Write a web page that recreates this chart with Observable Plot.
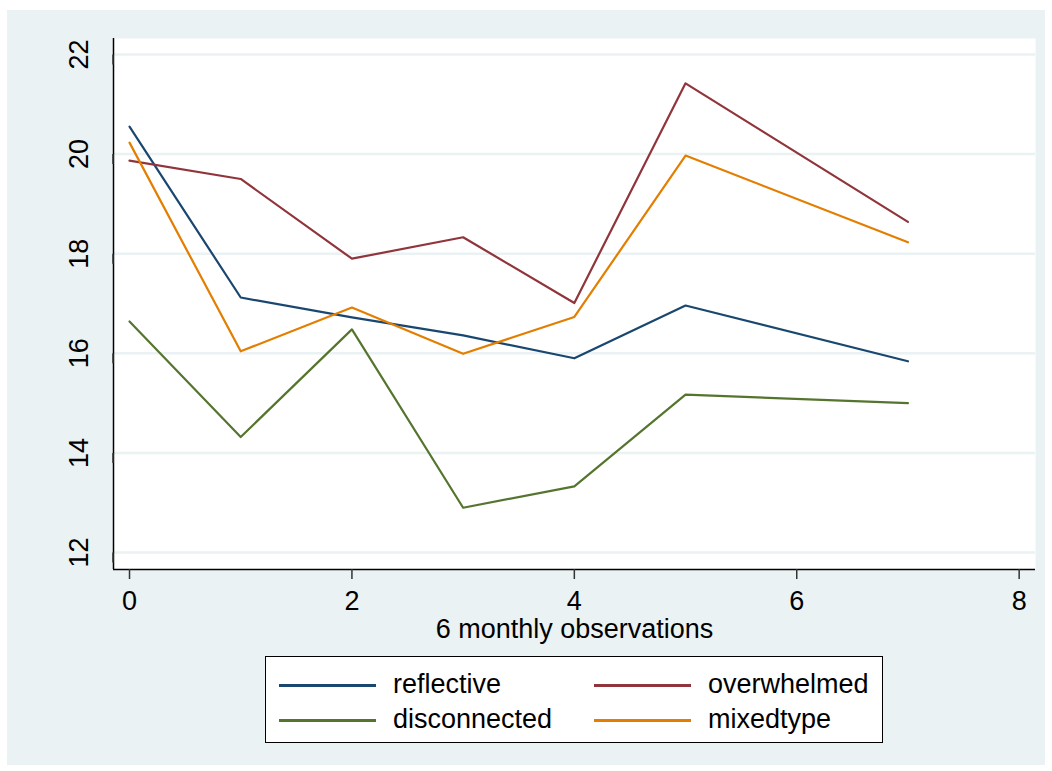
<!DOCTYPE html>
<html>
<head>
<meta charset="utf-8">
<script src="https://cdn.jsdelivr.net/npm/d3@7"></script>
<script src="https://cdn.jsdelivr.net/npm/@observablehq/plot@0.6"></script>
<style>
  html, body { margin: 0; padding: 0; background: #ffffff; }
  body { width: 1052px; height: 771px; position: relative; font-family: "Liberation Sans", Arial, Helvetica, sans-serif; }
  #bg { position: absolute; left: 7px; top: 10px; width: 1038px; height: 755px; background: #eaf2f3; }
  #chart { position: absolute; left: 0; top: 0; }
  #legend { position: absolute; left: 258px; top: 646px; width: 616px; height: 85px; background: #ffffff; border: 1px solid #000; box-sizing: content-box; }
  .item { position: absolute; font-size: 27px; color: #000; line-height: 1; white-space: nowrap; }
  .swatch { position: absolute; height: 2.5px; width: 97px; }
</style>
</head>
<body>
<div id="bg">
  <div id="chart"></div>
  <div id="legend"></div>
</div>
<script>
const observations = [0, 1, 2, 3, 4, 5, 7];
const seriesNames = ["reflective", "overwhelmed", "disconnected", "mixedtype"];
const seriesColors = ["#1a476f", "#90353b", "#55752f", "#e37e00"];
const reflective   = [20.55, 17.12, 16.72, 16.36, 15.90, 16.96, 15.84];
const overwhelmed  = [19.87, 19.50, 17.90, 18.33, 17.01, 21.42, 18.64];
const disconnected = [16.64, 14.32, 16.48, 12.90, 13.33, 15.17, 15.00];
const mixedtype    = [20.23, 16.04, 16.92, 15.99, 16.73, 19.97, 18.23];
const xTicks = [0, 2, 4, 6, 8];
const yTicks = [12, 14, 16, 18, 20, 22];
const xTitle = "6 monthly observations";

const seriesValues = {reflective, overwhelmed, disconnected, mixedtype};
const data = seriesNames.flatMap(name =>
  observations.map((x, i) => ({series: name, x, y: seriesValues[name][i]}))
);

const xDomain = [-0.144, 8.147];
const yDomain = [11.66, 22.32];
const font = "'Liberation Sans', Arial, Helvetica, sans-serif";

const plot = Plot.plot({
  width: 1038,
  height: 640,
  marginLeft: 106,
  marginRight: 10,
  marginTop: 28,
  marginBottom: 81,
  style: {background: "transparent", fontFamily: font, fontSize: "27px", color: "#000"},
  x: {domain: xDomain},
  y: {domain: yDomain},
  color: {domain: seriesNames, range: seriesColors},
  marks: [
    Plot.frame({fill: "white", stroke: "none"}),
    Plot.gridY(yTicks, {stroke: "#eaf2f3", strokeOpacity: 1, strokeWidth: 2.5}),
    Plot.ruleX([xDomain[0]], {stroke: "#000", strokeWidth: 1.5}),
    Plot.ruleY([yDomain[0]], {stroke: "#000", strokeWidth: 1.5}),
    Plot.axisY(yTicks, {tickSize: 10, tickPadding: 24, rotate: -90, textAnchor: "middle", tickFormat: d => String(d), fontSize: 27, label: null, stroke: "#333", strokeWidth: 1.5}),
    Plot.axisX(xTicks, {tickSize: 10, tickPadding: 11, tickFormat: d => String(d), fontSize: 27, label: null, stroke: "#333", strokeWidth: 1.5}),
    Plot.text([xTitle], {frameAnchor: "bottom", dy: 60, fontSize: 27, lineAnchor: "middle", fill: "#000"}),
    Plot.line(data, {x: "x", y: "y", z: "series", stroke: "series", strokeWidth: 2.2})
  ]
});
document.getElementById("chart").appendChild(plot);

const legend = document.getElementById("legend");
const cols = [{line: 13, text: 127}, {line: 328, text: 442}];
const rows = [28, 63];
seriesNames.forEach((name, i) => {
  const c = cols[i % 2], r = rows[Math.floor(i / 2)];
  const sw = document.createElement("div");
  sw.className = "swatch";
  sw.style.left = c.line + "px";
  sw.style.top = (r - 1) + "px";
  sw.style.background = seriesColors[i];
  legend.appendChild(sw);
  const t = document.createElement("div");
  t.className = "item";
  t.style.left = c.text + "px";
  t.style.top = (r - 14) + "px";
  t.textContent = name;
  legend.appendChild(t);
});
</script>
</body>
</html>
